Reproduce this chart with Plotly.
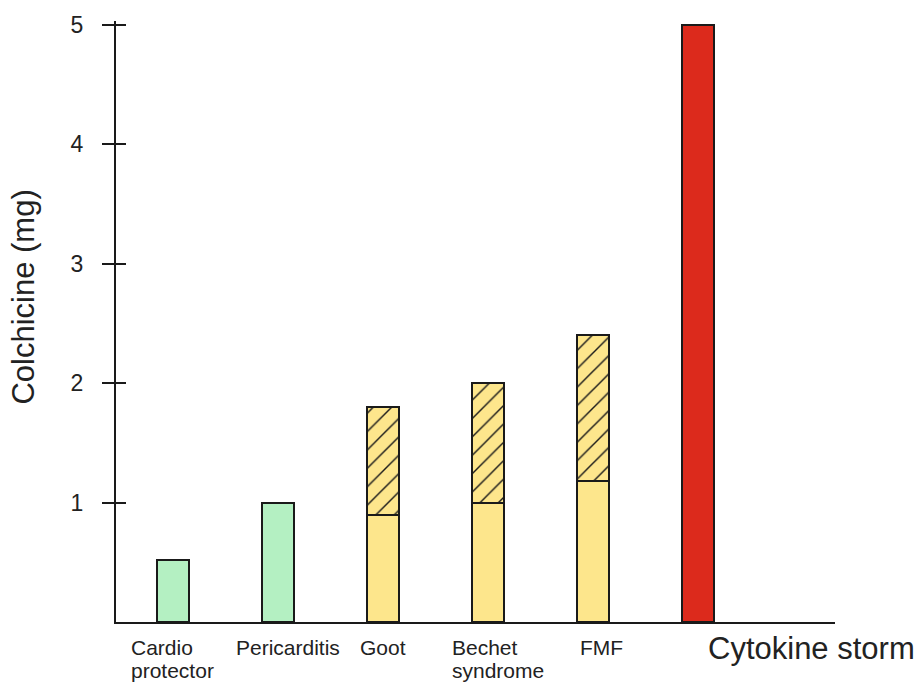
import plotly.graph_objects as go

# ---- data ----
categories = ["Cardio protector", "Pericarditis", "Goot", "Bechet syndrome", "FMF", "Cytokine storm"]
label_lines = [["Cardio", "protector"], ["Pericarditis"], ["Goot"], ["Bechet", "syndrome"], ["FMF"], ["Cytokine storm"]]
green_cats = ["Cardio protector", "Pericarditis"]
green_vals = [0.52, 1.0]
yellow_cats = ["Goot", "Bechet syndrome", "FMF"]
yellow_base = [0.9, 1.0, 1.18]
yellow_extra = [0.9, 1.0, 1.22]
red_cats = ["Cytokine storm"]
red_vals = [5.0]
y_ticks = [1, 2, 3, 4, 5]
y_title = "Colchicine (mg)"

# ---- styling / layout positions ----
label_offsets = [-0.42, -0.42, -0.24, -0.36, -0.14, 0.08]
FONT = "Liberation Sans, Arial, sans-serif"
TXT = "#222222"
EDGE = "#1a1a1a"
BAR_W = 0.30

fig = go.Figure()
line = dict(color=EDGE, width=2)
fig.add_bar(x=green_cats, y=green_vals, width=BAR_W,
            marker=dict(color="#b4f0c2", line=line))
fig.add_bar(x=yellow_cats, y=yellow_base, width=BAR_W,
            marker=dict(color="#fde68c", line=line))
fig.add_bar(x=yellow_cats, y=yellow_extra, width=BAR_W,
            marker=dict(color="#fde68c", line=line,
                        pattern=dict(shape="/", fgcolor="#1a1a1a", bgcolor="#fde68c",
                                     fgopacity=1, size=13, solidity=0.11,
                                     fillmode="replace")))
fig.add_bar(x=red_cats, y=red_vals, width=BAR_W, yaxis="y2",
            marker=dict(color="#dc2a1c", line=line))

yr = [0, 5.033]
fig.update_layout(
    width=922, height=684,
    margin=dict(l=116, r=87, t=18, b=62),
    paper_bgcolor="white", plot_bgcolor="white",
    barmode="stack", showlegend=False,
    font=dict(family=FONT, color=TXT),
    xaxis=dict(type="category", categoryorder="array", categoryarray=categories,
               range=[-0.543, 6.305], showticklabels=False, ticks="",
               showline=True, linecolor=EDGE, linewidth=2, showgrid=False,
               zeroline=False),
    yaxis=dict(range=yr, tickvals=y_ticks, ticks="outside", ticklen=12,
               tickwidth=2, tickcolor=EDGE, showline=True, linecolor=EDGE,
               linewidth=2, showgrid=False, zeroline=False,
               tickfont=dict(size=23, color=TXT, family=FONT),
               ticklabelstandoff=14),
    yaxis2=dict(range=yr, overlaying="y", anchor="x", side="left",
                tickvals=y_ticks, ticks="inside", ticklen=10, tickwidth=2,
                tickcolor=EDGE, showticklabels=False, showline=False,
                showgrid=False, zeroline=False),
)

fig.add_annotation(x=(24 - 116) / (922 - 116 - 87), y=(622 - 296) / (684 - 18 - 62),
                   xref="paper", yref="paper", text=y_title,
                   showarrow=False, textangle=-90, xanchor="center", yanchor="middle",
                   font=dict(size=31, color=TXT, family=FONT))

line_y = [-0.020, -0.058]
for i, (lines, off) in enumerate(zip(label_lines, label_offsets)):
    big = i == len(label_lines) - 1
    for j, txt in enumerate(lines):
        fig.add_annotation(x=i + off, y=-0.012 if big else line_y[j],
                           xref="x", yref="paper",
                           text=txt, showarrow=False, xanchor="left", yanchor="top",
                           align="left",
                           font=dict(size=31 if big else 21, color=TXT, family=FONT))

fig.write_html("out.html", config={"displayModeBar": False},
               post_script="document.body.style.margin='0';document.body.style.overflow='hidden';")
